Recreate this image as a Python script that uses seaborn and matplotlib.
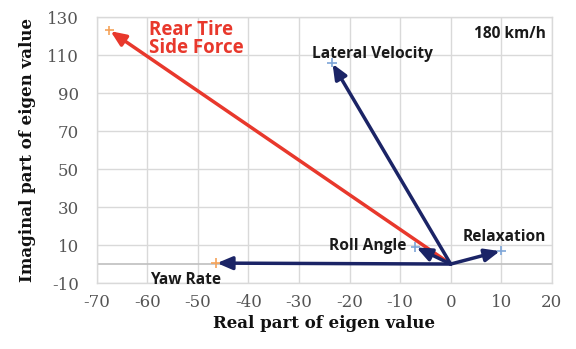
import matplotlib
matplotlib.use("Agg")
import matplotlib.pyplot as plt
import seaborn as sns
import pandas as pd

# Data: eigenvalue points (real, imaginary)
modes = ["Rear Tire\nSide Force", "Lateral Velocity", "Roll Angle", "Relaxation", "Yaw Rate"]
real_part = [-67.5, -23.5, -7.0, 10.0, -46.5]
imag_part = [123.0, 106.0, 9.0, 7.0, 0.5]
colors = ["#E8382C", "#1B2466", "#1B2466", "#1B2466", "#1B2466"]
marker_colors = ["#F5A35A", "#7EA6D8", "#7EA6D8", "#7EA6D8", "#F5A35A"]
x_ticks = [-70, -60, -50, -40, -30, -20, -10, 0, 10, 20]
y_ticks = [-10, 10, 30, 50, 70, 90, 110, 130]
speed_label = "180 km/h"

sns.set_theme(style="white")
plt.rcParams["axes.unicode_minus"] = False

df = pd.DataFrame({"mode": modes, "re": real_part, "im": imag_part})

fig = plt.figure(figsize=(5.76, 3.49), dpi=100)
ax = fig.add_axes([0.168, 0.189, 0.790, 0.762])

ax.set_xlim(-70, 20)
ax.set_ylim(-10, 130)
ax.set_xticks(x_ticks)
ax.set_yticks(y_ticks)
ax.grid(True, color="#D9D9D9", lw=1.0)
ax.axhline(0, color="#BFBFBF", lw=1.2, zorder=1)
for s in ax.spines.values():
    s.set_color("#D9D9D9")
    s.set_linewidth(1.0)

for i, row in df.iterrows():
    ax.annotate("", xy=(row["re"], row["im"]), xytext=(0, 0),
                arrowprops=dict(arrowstyle="-|>,head_length=0.75,head_width=0.32",
                                color=colors[i], lw=2.5, shrinkA=0, shrinkB=1),
                zorder=3)

sns.scatterplot(data=df, x="re", y="im", marker="+", s=45, linewidth=1.2,
                hue="mode", palette=marker_colors, legend=False, ax=ax, zorder=4)

lab_font = dict(family="Open Sans", weight="bold", fontsize=11.2)
ax.text(-59.6, 128.5, modes[0], color="#E8382C", ha="left", va="top",
        linespacing=0.88, family="Open Sans", weight="bold", fontsize=13.5)
ax.text(-27.4, 110.5, modes[1], color="#1a1a1a", ha="left", va="center", **lab_font)
ax.text(-16.4, 9.5, modes[2], color="#1a1a1a", ha="center", va="center", **lab_font)
ax.text(10.6, 14, modes[3], color="#1a1a1a", ha="center", va="center", **lab_font)
ax.text(-52.5, -8.2, modes[4], color="#1a1a1a", ha="center", va="center", **lab_font)
ax.text(18.9, 121, speed_label, color="#1a1a1a", ha="right", va="center", **lab_font)

for lab in ax.get_xticklabels() + ax.get_yticklabels():
    lab.set_family("DejaVu Serif")
    lab.set_fontsize(12)
    lab.set_color("#555555")
ax.tick_params(axis="x", length=0, pad=8)
ax.tick_params(axis="y", length=0, pad=13)

ax.set_xlabel("Real part of eigen value", family="DejaVu Serif", weight="bold",
              fontsize=12, color="#111111", labelpad=3)
ax.set_ylabel("Imaginal part of eigen value", family="DejaVu Serif", weight="bold",
              fontsize=12, color="#111111", labelpad=8)

fig.savefig("out.png", dpi=100)
